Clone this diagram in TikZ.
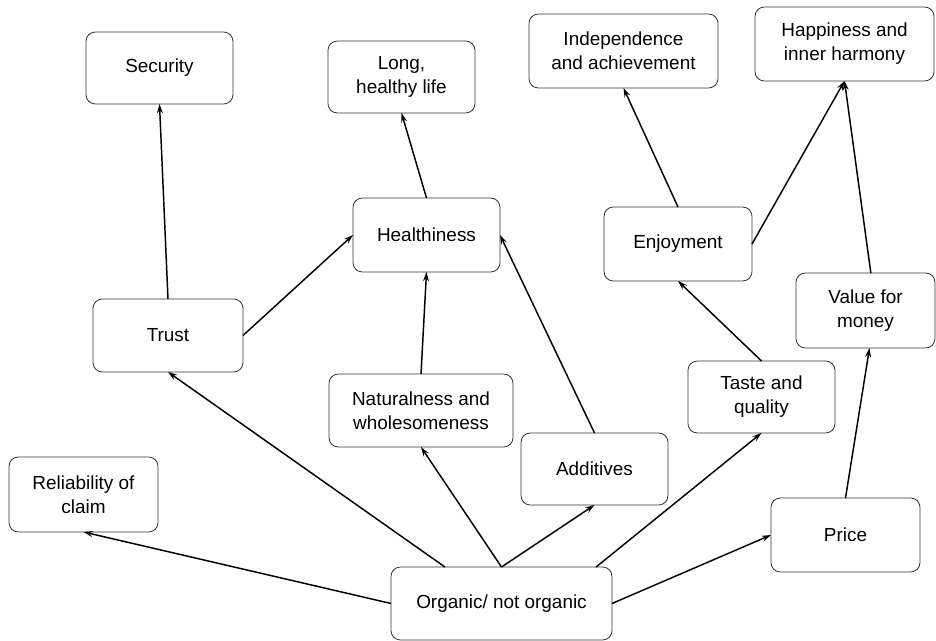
\documentclass[tikz,border=0pt]{standalone}
\usepackage{fontspec}
\setmainfont{Liberation Sans}
\usetikzlibrary{arrows.meta,calc}

\begin{document}
\begin{tikzpicture}[
  x=0.75pt, y=-0.75pt,
  font=\fontsize{14.2}{18}\selectfont,
  box/.style={draw=black!80, line width=0.6pt, rounded corners=7pt,
    fill=white, align=center, inner sep=0pt, outer sep=0pt},
  sz/.style 2 args={minimum width=#1*0.75pt, minimum height=#2*0.75pt},
  link/.style={draw=black, line width=1.1pt,
    -{Stealth[length=7pt, width=4.5pt, inset=2.5pt]}}
]
\useasboundingbox (0,0) rectangle (936,641);

% value nodes
\node[box, sz={147}{72}] (security)  at (159.5,68)  {Security};
\node[box, sz={147}{72}] (longlife)  at (401.5,77)  {Long,\\healthy life};
\node[box, sz={189}{74}] (indep)     at (623.5,51)  {Independence\\and achievement};
\node[box, sz={179}{74}] (happy)     at (844.5,44)  {Happiness and\\inner harmony};

% consequences
\node[box, sz={147}{74}] (health)    at (426.5,235) {Healthiness};
\node[box, sz={148}{74}] (enjoy)     at (678,244)   {Enjoyment};
\node[box, sz={150}{73}] (trust)     at (168,335.5) {Trust};
\node[box, sz={139}{75}] (value)     at (865.5,310.5) {Value for\\money};

% attributes
\node[box, sz={184}{73}] (natural)   at (421,410.5) {Naturalness and\\wholesomeness};
\node[box, sz={147}{72}] (taste)     at (761.5,397) {Taste and\\quality};
\node[box, sz={147}{72}] (additives) at (594.5,469) {Additives};
\node[box, sz={149}{75}] (reliab)    at (83.5,494.5) {Reliability of\\claim};
\node[box, sz={149}{74}] (price)     at (845.5,535) {Price};
\node[box, sz={221}{73}] (organic)   at (501.5,603.5) {Organic/ not organic};

% links between levels
\draw[link] (trust.north) -- (security.south);
\draw[link] (trust.east) -- (health.west);
\draw[link] (health.north) -- (longlife.south);
\draw[link] (natural.north) -- (health.south);
\draw[link] (additives.north) -- (health.east);
\draw[link] (enjoy.north) -- (indep.south);
\draw[link] (enjoy.east) -- (happy.south);
\draw[link] ([xshift=4pt]value.north) -- (happy.south);
\draw[link] (taste.north) -- (enjoy.south);
\draw[link] (price.north) -- ([xshift=3pt]value.south);

% links from the organic / not organic choice
\draw[link] (organic.west) -- (reliab.south);
\draw[link] ($(organic.north west)!0.244!(organic.north east)$) -- (trust.south);
\draw[link] (organic.north) -- (natural.south);
\draw[link] (organic.north) -- (additives.south);
\draw[link] ($(organic.north west)!0.928!(organic.north east)$) -- (taste.south);
\draw[link] (organic.east) -- (price.west);
\end{tikzpicture}
\end{document}
